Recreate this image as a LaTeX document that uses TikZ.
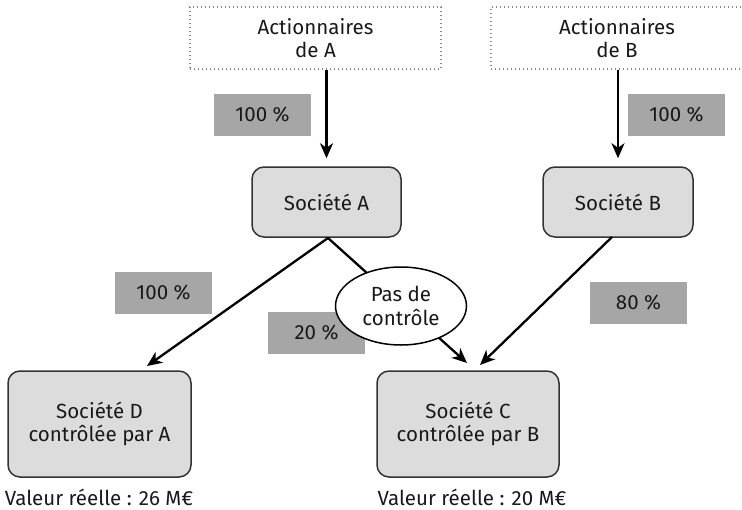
\documentclass[tikz,border=0pt]{standalone}
\usepackage{fontspec}
\setmainfont{Fira Sans}
\usetikzlibrary{arrows.meta,shapes.geometric}
\definecolor{lblgray}{HTML}{A6A6A6}
\definecolor{boxgray}{HTML}{DCDCDC}
\definecolor{edgegray}{HTML}{333333}
\definecolor{dotgray}{HTML}{8A8A8A}
\tikzset{
  txt/.style={font=\fontsize{20.5}{23.5}\selectfont, align=center, text=black!90},
  holder/.style={txt, draw=dotgray, line width=1.3pt, dash pattern=on 1.3pt off 2.7pt, inner sep=0pt},
  firm/.style={txt, draw=edgegray, fill=boxgray, line width=1.5pt, rounded corners=12pt, inner sep=0pt},
  pct/.style={txt, fill=lblgray, inner sep=0pt, minimum width=97pt, minimum height=42pt},
  note/.style={txt, inner sep=0pt, anchor=base},
  bubble/.style={txt, ellipse, draw=black, fill=white, line width=1.5pt, inner sep=0pt, minimum width=131pt, minimum height=78pt},
  link/.style={line width=2.3pt, -{Stealth[length=15pt,width=13pt,inset=4.5pt]}}
}
\begin{document}
\begin{tikzpicture}[x=1pt,y=-1pt]
\useasboundingbox (0,0) rectangle (742,509);
% shareholders
\node[holder, minimum width=251pt, minimum height=62pt] (actA) at (315.5,38) {Actionnaires\\de A};
\node[holder, minimum width=252pt, minimum height=62pt] (actB) at (617,38) {Actionnaires\\de B};
% companies
\node[firm, minimum width=149pt, minimum height=70pt] (socA) at (326.5,202) {Société A};
\node[firm, minimum width=150pt, minimum height=70pt] (socB) at (618,202) {Société B};
\node[firm, minimum width=183pt, minimum height=106pt] (socD) at (99.5,424) {Société D\\contrôlée par A};
\node[firm, minimum width=182pt, minimum height=106pt] (socC) at (468,424) {Société C\\contrôlée par B};
% values
\node[note] (valD) at (99,505) {Valeur réelle : 26 M€};
\node[note] (valC) at (472,505) {Valeur réelle : 20 M€};
% percentage labels
\node[pct] (pA) at (262.5,114.5) {100 \%};
\node[pct] (pB) at (676.5,114.5) {100 \%};
\node[pct] (pD) at (163.5,293) {100 \%};
\node[pct] (pC) at (316.5,333) {20 \%};
\node[pct] (pE) at (638.5,303) {80 \%};
% entry points
\coordinate (dIn) at (147,366);
\coordinate (cIn1) at (467,363);
\coordinate (cIn2) at (480,365);
\coordinate (aOut) at (328,238);
\coordinate (bOut) at (612,237);
% connectors
\draw[link, shorten >=8pt] (socA.north |- actA.south) -- (socA.north);
\draw[link, shorten >=8pt] (socB.north |- actB.south) -- (socB.north);
\draw[link] (aOut) -- (dIn);
\draw[link] (aOut) -- (cIn1);
\draw[link] (bOut) -- (cIn2);
% no control bubble
\node[bubble] (noctl) at (401,306) {Pas de\\contrôle};
\end{tikzpicture}
\end{document}
